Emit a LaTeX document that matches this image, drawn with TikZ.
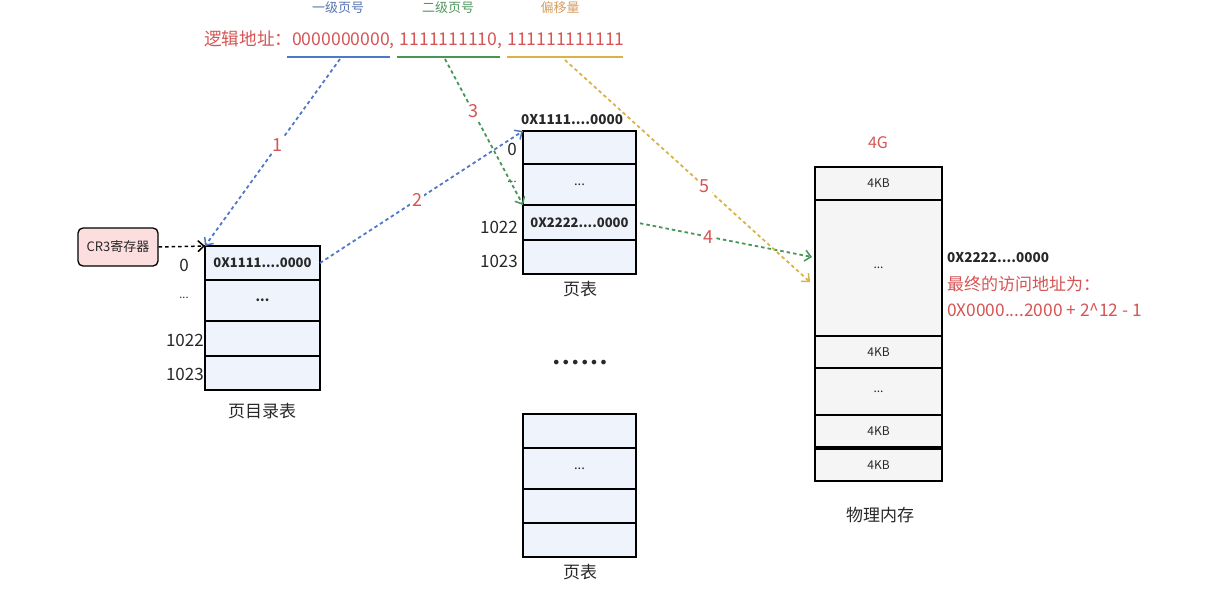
\documentclass[tikz,border=0pt]{standalone}
\usepackage{fontspec}
\setmainfont{Noto Sans CJK SC}
\newfontfamily\dejavu{DejaVu Sans}
\usetikzlibrary{arrows.meta}
\definecolor{addrred}{RGB}{214,84,84}
\definecolor{lblue}{RGB}{80,120,200}
\definecolor{lgreen}{RGB}{70,150,85}
\definecolor{lorange}{RGB}{218,178,72}
\definecolor{tblue}{RGB}{85,115,175}
\definecolor{tgreen}{RGB}{80,150,95}
\definecolor{torange}{RGB}{214,158,100}
\definecolor{cellblue}{RGB}{238,243,252}
\definecolor{cellgray}{RGB}{245,245,245}
\definecolor{crpink}{RGB}{252,222,222}
\definecolor{txt}{RGB}{40,40,40}
\newcommand{\fs}[1]{\fontsize{#1}{#1}\selectfont}
\tikzset{
  x=1pt, y=-1pt,
  cellb/.style={draw=black, line width=1.6pt, fill=cellblue, minimum width=115pt, inner sep=0pt, outer sep=0pt, font=\fs{13}, text=txt},
  cellt/.style={cellb, minimum width=113pt},
  cellm/.style={draw=black, line width=1.6pt, fill=cellgray, minimum width=127pt, inner sep=0pt, outer sep=0pt, font=\fs{12}, text=txt},
  idx/.style={font=\fs{17}, text=txt, inner sep=0pt},
  captext/.style={font=\fs{17}, text=txt, inner sep=0pt},
  steplbl/.style={font=\fs{18}, text=addrred, fill=white, inner sep=2pt},
  dashline/.style={line width=1.8pt, dash pattern=on 3.5pt off 3pt, -{Straight Barb[length=6pt,width=11pt,line width=1.5pt]}},
}
\begin{document}
\begin{tikzpicture}
\useasboundingbox (0,0) rectangle (1224,592);
% top labels
\node[font=\fs{13}, text=tblue] (lab1) at (338,8) {一级页号};
\node[font=\fs{13}, text=tgreen] (lab2) at (448,8) {二级页号};
\node[font=\fs{13}, text=torange] (lab3) at (560,8) {偏移量};
\node[font=\fs{17.6}, text=addrred, anchor=west, inner sep=0pt] (addr) at (204,40) {逻辑地址：0000000000,\hspace{5pt}1111111110,\hspace{5pt}111111111111};
\coordinate (ub1) at (287,57); \coordinate (ue1) at (390,57);
\coordinate (ub2) at (397,57); \coordinate (ue2) at (500,57);
\coordinate (ub3) at (507,57); \coordinate (ue3) at (623,57);
\draw[lblue, line width=1.6pt] (ub1) -- (ue1);
\draw[lgreen, line width=1.6pt] (ub2) -- (ue2);
\draw[lorange, line width=1.6pt] (ub3) -- (ue3);
\coordinate (s1) at (340,59);
\coordinate (s3) at (445,59);
\coordinate (s5) at (565,60);

% CR3
\node[draw=black, line width=1.3pt, rounded corners=5pt, fill=crpink, minimum width=80pt, minimum height=38pt, font=\fs{13}, text=txt, inner sep=0pt] (cr3) at (118,247) {CR3寄存器};

% page directory
\node[cellb, minimum height=34pt] (d0) at (262.5,263) {\bfseries 0X1111....0000};
\node[cellb, minimum height=41pt] (d1) at (262.5,300.5) {\bfseries ...};
\node[cellb, minimum height=35pt] (d2) at (262.5,338.5) {};
\node[cellb, minimum height=34pt] (d3) at (262.5,373) {};
\node[idx] (di0) at (184,265) {0};
\node[idx, font=\fs{11}] (di1) at (184,298) {...};
\node[idx, anchor=east] (di2) at (204,340) {1022};
\node[idx, anchor=east] (di3) at (204,374) {1023};
\node[captext] (dcap) at (262,411) {页目录表};

% page table 1
\node[cellt, minimum height=33pt] (t0) at (579.5,147.5) {};
\node[cellt, minimum height=41pt] (t1) at (579.5,184.5) {...};
\node[cellt, minimum height=35pt] (t2) at (579.5,222.5) {\bfseries 0X2222....0000};
\node[cellt, minimum height=34pt] (t3) at (579.5,257) {};
\node[font=\bfseries\fs{13.5}, text=txt, anchor=west, inner sep=0pt] (thead) at (521,120) {0X1111....0000};
\node[idx] (ti0) at (512,149) {0};
\node[idx, font=\fs{11}] (ti1) at (512,182) {...};
\node[idx, anchor=east] (ti2) at (518,227) {1022};
\node[idx, anchor=east] (ti3) at (518,261) {1023};
\node[captext] (tcap) at (580,289) {页表};

\node[font=\dejavu\fs{16}, text=txt, inner sep=0pt] (dots) at (580,364) {••••••};

% page table 2
\node[cellt, minimum height=34pt] (p0) at (579.5,431) {};
\node[cellt, minimum height=41pt] (p1) at (579.5,468.5) {...};
\node[cellt, minimum height=34pt] (p2) at (579.5,506) {};
\node[cellt, minimum height=34pt] (p3) at (579.5,540) {};
\node[captext] (pcap) at (580,572) {页表};

% physical memory
\node[font=\fs{16}, text=addrred, inner sep=0pt] (g4) at (878,143) {4G};
\node[cellm, minimum height=33pt] (m0) at (878.5,183.5) {4KB};
\node[cellm, minimum height=136pt] (m1) at (878.5,268) {...};
\node[cellm, minimum height=32pt] (m2) at (878.5,352) {4KB};
\node[cellm, minimum height=47pt] (m3) at (878.5,391.5) {...};
\node[cellm, minimum height=32pt] (m4) at (878.5,431) {4KB};
\node[cellm, minimum height=32pt] (m5) at (878.5,465) {4KB};
\node[captext] (mcap) at (880,515) {物理内存};
\node[font=\bfseries\fs{13.5}, text=txt, anchor=west, inner sep=0pt] (phys) at (947,258) {0X2222....0000};
\node[font=\fs{17}, text=addrred, anchor=west, inner sep=0pt] (fin1) at (947,284) {最终的访问地址为：};
\node[font=\fs{17.3}, text=addrred, anchor=west, inner sep=0pt] (fin2) at (947,310) {0X0000....2000 + 2\^{}12 - 1};

% connectors
\draw[dashline, black, line width=1.5pt] (cr3.east) -- (d0.north west);
\draw[dashline, lblue] (s1) -- node[steplbl, pos=0.46] {1} (d0.north west);
\draw[dashline, lblue] (d0.east) -- node[steplbl, pos=0.48] {2} (t0.north west);
\draw[dashline, lgreen] (s3) -- node[steplbl, pos=0.36] {3} (t2.north west);
\coordinate (e4) at (812,257);
\coordinate (e5) at (810,282);
\draw[dashline, lgreen, shorten <=4pt] (t2.east) -- node[steplbl, pos=0.41] {4} (e4);
\draw[dashline, lorange] (s5) -- node[steplbl, pos=0.57] {5} (e5);
\end{tikzpicture}
\end{document}
